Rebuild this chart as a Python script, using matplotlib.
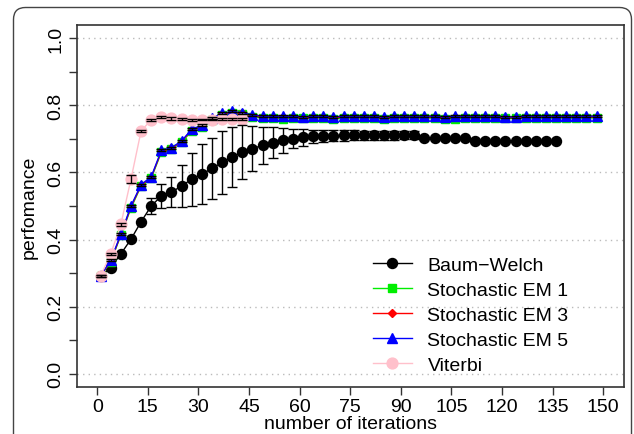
import numpy as np
import matplotlib
matplotlib.use("Agg")
import matplotlib.pyplot as plt
from matplotlib.patches import FancyBboxPatch
from matplotlib.transforms import IdentityTransform
from matplotlib.ticker import FixedLocator, FuncFormatter

plt.rcParams['font.family'] = ['Liberation Sans', 'DejaVu Sans']

# ---------------- data ----------------
bw_x = list(range(1, 137, 3))
bw_y = [0.290, 0.316, 0.357, 0.401, 0.453, 0.500, 0.530, 0.541, 0.560, 0.580,
        0.595, 0.612, 0.630, 0.646, 0.661, 0.671, 0.681, 0.689, 0.696, 0.701,
        0.705, 0.708, 0.709, 0.710, 0.711, 0.711, 0.711, 0.711, 0.711, 0.711,
        0.711, 0.711, 0.703, 0.703, 0.703, 0.703, 0.703, 0.693, 0.693, 0.693,
        0.693, 0.693, 0.693, 0.693, 0.693, 0.693]
bw_err = [0.0, 0.0, 0.0, 0.0, 0.0, 0.025, 0.035, 0.045, 0.062, 0.079,
          0.089, 0.092, 0.093, 0.089, 0.080, 0.067, 0.056, 0.047, 0.037, 0.029,
          0.025, 0.020, 0.018, 0.017, 0.016, 0.015, 0.014, 0.013, 0.013, 0.013,
          0.012, 0.012, 0.0, 0.0, 0.0, 0.0, 0.0, 0.0, 0.0, 0.0,
          0.0, 0.0, 0.0, 0.0, 0.0, 0.0]

sem_x = list(range(1, 149, 3))
sem5_y = [0.292, 0.338, 0.416, 0.500, 0.564, 0.587, 0.666, 0.674, 0.694, 0.729,
          0.741, 0.762, 0.776, 0.782, 0.778, 0.772, 0.768, 0.768, 0.768, 0.768,
          0.766, 0.768, 0.768, 0.766, 0.768, 0.768, 0.768, 0.768, 0.766, 0.768,
          0.768, 0.768, 0.768, 0.768, 0.766, 0.768, 0.768, 0.768, 0.768, 0.768,
          0.766, 0.766, 0.768, 0.768, 0.768, 0.768, 0.768, 0.768, 0.768, 0.768]
sem1_y = [0.290, 0.334, 0.412, 0.494, 0.560, 0.583, 0.660, 0.670, 0.690, 0.724,
          0.737, 0.758, 0.772, 0.778, 0.774, 0.766, 0.763, 0.763, 0.760, 0.763,
          0.762, 0.763, 0.763, 0.760, 0.762, 0.763, 0.763, 0.762, 0.759, 0.762,
          0.763, 0.763, 0.762, 0.763, 0.760, 0.760, 0.763, 0.762, 0.763, 0.763,
          0.762, 0.762, 0.763, 0.763, 0.762, 0.763, 0.763, 0.762, 0.763, 0.763]
sem3_y = [0.291, 0.336, 0.414, 0.497, 0.562, 0.585, 0.663, 0.672, 0.692, 0.727,
          0.739, 0.760, 0.774, 0.780, 0.776, 0.769, 0.765, 0.765, 0.765, 0.765,
          0.764, 0.765, 0.765, 0.764, 0.765, 0.765, 0.765, 0.765, 0.764, 0.765,
          0.765, 0.765, 0.765, 0.765, 0.764, 0.765, 0.765, 0.765, 0.765, 0.765,
          0.764, 0.764, 0.765, 0.765, 0.765, 0.765, 0.765, 0.765, 0.765, 0.765]
sem_err = [0.003] * 50

vit_x = list(range(1, 44, 3))
vit_y = [0.292, 0.357, 0.445, 0.580, 0.724, 0.757, 0.765, 0.762, 0.760, 0.758,
         0.758, 0.758, 0.760, 0.760, 0.760]
vit_err = [0.003, 0.004, 0.005, 0.011, 0.002, 0.003, 0.003, 0.004, 0.003, 0.003,
           0.002, 0.002, 0.002, 0.002, 0.002]

labels = ["Baum\u2212Welch", "Stochastic EM 1", "Stochastic EM 3",
          "Stochastic EM 5", "Viterbi"]
x_ticks = [0, 15, 30, 45, 60, 75, 90, 105, 120, 135, 150]
y_major = [0.0, 0.2, 0.4, 0.6, 0.8, 1.0]
y_minor = [0.1, 0.3, 0.5, 0.7, 0.9]

# ---------------- figure ----------------
W, H = 634, 435
FS = 14
fig = plt.figure(figsize=(W / 100, H / 100), dpi=100)
ax = fig.add_axes([77 / W, 1 - 388 / H, (623.5 - 77) / W, (388 - 26) / H])

frame = FancyBboxPatch((13.5, -30), 618, 426.5 + 30, boxstyle="round,pad=0,rounding_size=12",
                       transform=IdentityTransform(), fill=False,
                       edgecolor="#444444", linewidth=1.0)
fig.add_artist(frame)

for yv in y_major:
    ax.axhline(yv, color="#bbbbbb", lw=1.0, ls=(0, (1, 3)), zorder=0)

ax.plot(bw_x, bw_y, color="black", lw=1.0, marker="o", ms=7.2, zorder=2, label=labels[0])
ax.plot(sem_x, sem1_y, color="#00ee00", lw=1.0, marker="s", ms=6.0, zorder=3, label=labels[1])
ax.plot(sem_x, sem3_y, color="red", lw=1.0, marker="D", ms=4.0, zorder=3, label=labels[2])
ax.plot(sem_x, sem5_y, color="blue", lw=1.0, marker="^", ms=7.0, zorder=4, label=labels[3])
ax.plot(vit_x, vit_y, color="pink", lw=1.0, marker="o", ms=7.8, zorder=5, label=labels[4])

ekw = dict(fmt="none", ecolor="black", elinewidth=1.0, capsize=3.5, capthick=1.0, zorder=6)
bw_idx = [i for i, e in enumerate(bw_err) if e > 0]
ax.errorbar([bw_x[i] for i in bw_idx], [bw_y[i] for i in bw_idx],
            yerr=[bw_err[i] for i in bw_idx], **ekw)
ax.errorbar(sem_x, sem5_y, yerr=sem_err, **ekw)
ax.errorbar(vit_x, vit_y, yerr=vit_err, **ekw)

ax.set_xlim(-6, 156)
ax.set_ylim(-0.04, 1.04)
ax.xaxis.set_major_locator(FixedLocator(x_ticks))
ax.yaxis.set_major_locator(FixedLocator(y_major))
ax.yaxis.set_minor_locator(FixedLocator(y_minor))
ax.yaxis.set_major_formatter(FuncFormatter(lambda v, p: f"{v:.1f}"))
ax.tick_params(axis="both", which="both", direction="out", length=6, width=1.0,
               color="#333333", labelsize=FS)
ax.tick_params(axis="y", which="major", pad=3)
for lab in ax.get_yticklabels():
    lab.set_rotation(90)
    lab.set_va("center")
ax.tick_params(axis="x", pad=2)

for sp in ax.spines.values():
    sp.set_color("#333333")
    sp.set_linewidth(1.2)

ax.set_xlabel("number of iterations", fontsize=FS, labelpad=0)
ax.set_ylabel("perfomance", fontsize=FS, labelpad=7)

leg = ax.legend(loc="upper left", bbox_to_anchor=((373 - 77) / 546.5, (388 - 257) / 362),
                frameon=False, fontsize=FS, handlelength=2.0, handletextpad=0.8,
                labelspacing=0.38, borderpad=0, borderaxespad=0, numpoints=1)

fig.savefig("out.png", dpi=100)
